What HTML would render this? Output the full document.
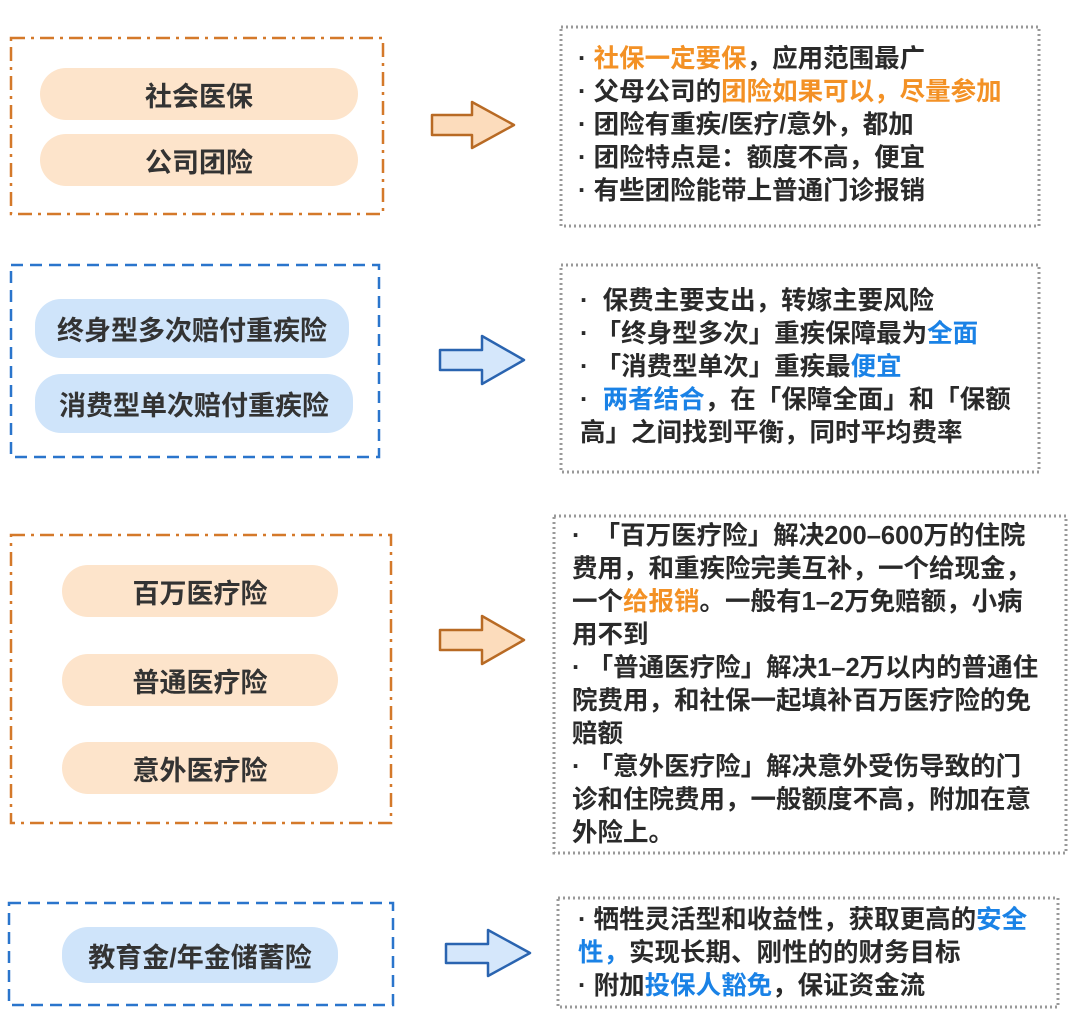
<!DOCTYPE html>
<html><head><meta charset="utf-8"><style>
body{margin:0;width:1080px;height:1036px;background:#fff;position:relative;overflow:hidden;font-family:"Liberation Sans","Noto Sans CJK SC",sans-serif;}
.p{position:absolute;border-radius:26px;display:flex;align-items:center;justify-content:center;font-size:27px;font-weight:bold;color:#333;}
.o{background:#fde4cb}.b{background:#cfe4fa}
.t{position:absolute;font-size:25.5px;font-weight:bold;color:#2a2a2a;white-space:nowrap;line-height:33px;}
.or{color:#f39125}.bl{color:#1a82e6}
svg{position:absolute;left:0;top:0}
</style></head><body>
<svg width="1080" height="1036">
<g fill="none" stroke-width="2.5">
<rect x="11" y="38" width="372" height="176" stroke="#d4792a" stroke-dasharray="14,6,3,6"/>
<rect x="11" y="265" width="368" height="192" stroke="#2a75cc" stroke-dasharray="12,7"/>
<rect x="11" y="535" width="380" height="288" stroke="#d4792a" stroke-dasharray="14,6,3,6"/>
<rect x="9" y="903" width="384" height="102" stroke="#2a75cc" stroke-dasharray="12,7"/>
<g stroke="#999" stroke-width="3" stroke-dasharray="2,3">
<rect x="561" y="27" width="478" height="199"/>
<rect x="561" y="265" width="478" height="207"/>
<rect x="554" y="516" width="512" height="337"/>
<rect x="558" y="898" width="500" height="109"/>
</g>
</g>
<g stroke-width="2.5" stroke-linejoin="round">
<path d="M432 115 H472 V102 L514 125 L472 148 V135 H432 Z" fill="#fcdcbc" stroke="#b86a24"/>
<path d="M440 350 H482 V336 L524 360 L482 384 V370 H440 Z" fill="#d5e7fb" stroke="#2a64b0"/>
<path d="M440 630 H482 V616 L524 640 L482 664 V650 H440 Z" fill="#fcdcbc" stroke="#b86a24"/>
<path d="M446 944 H488 V930 L530 953 L488 976 V963 H446 Z" fill="#d5e7fb" stroke="#2a64b0"/>
</g>
</svg>
<div class="p o" style="left:40px;top:68px;width:318px;height:52px">社会医保</div>
<div class="p o" style="left:40px;top:134px;width:318px;height:52px">公司团险</div>
<div class="p b" style="left:35px;top:299px;width:314px;height:59px">终身型多次赔付重疾险</div>
<div class="p b" style="left:35px;top:374px;width:318px;height:59px">消费型单次赔付重疾险</div>
<div class="p o" style="left:62px;top:565px;width:276px;height:52px">百万医疗险</div>
<div class="p o" style="left:62px;top:654px;width:276px;height:52px">普通医疗险</div>
<div class="p o" style="left:62px;top:742px;width:276px;height:52px">意外医疗险</div>
<div class="p b" style="left:62px;top:927px;width:276px;height:56px">教育金/年金储蓄险</div>

<div class="t" style="left:578px;top:43px">· <span class="or">社保一定要保</span>，应用范围最广<br>· 父母公司的<span class="or">团险如果可以，尽量参加</span><br>· 团险有重疾/医疗/意外，都加<br>· 团险特点是：额度不高，便宜<br>· 有些团险能带上普通门诊报销</div>
<div class="t" style="left:580px;top:285px">·&nbsp; 保费主要支出，转嫁主要风险<br>· 「终身型多次」重疾保障最为<span class="bl">全面</span><br>· 「消费型单次」重疾最<span class="bl">便宜</span><br>·&nbsp; <span class="bl">两者结合</span>，在「保障全面」和「保额<br>高」之间找到平衡，同时平均费率</div>
<div class="t" style="left:572px;top:520px">·&nbsp; 「百万医疗险」解决200–600万的住院<br>费用，和重疾险完美互补，一个给现金，<br>一个<span class="or">给报销</span>。一般有1–2万免赔额，小病<br>用不到<br>· 「普通医疗险」解决1–2万以内的普通住<br>院费用，和社保一起填补百万医疗险的免<br>赔额<br>· 「意外医疗险」解决意外受伤导致的门<br>诊和住院费用，一般额度不高，附加在意<br>外险上。</div>
<div class="t" style="left:578px;top:904px">· 牺牲灵活型和收益性，获取更高的<span class="bl">安全<br>性，</span>实现长期、刚性的的财务目标<br>· 附加<span class="bl">投保人豁免</span>，保证资金流</div>
</body></html>
